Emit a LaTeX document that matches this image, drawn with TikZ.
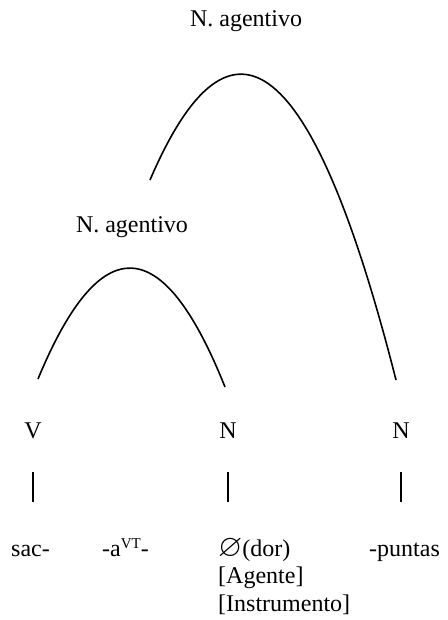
\documentclass[tikz,border=0pt]{standalone}
\usepackage{amssymb}
\usepackage{graphicx}
\usepackage{fontspec}
\setmainfont{Liberation Serif}
\begin{document}
\begin{tikzpicture}[x=1pt,y=-1pt,
  lbl/.style={inner sep=0pt,font=\fontsize{24}{28}\selectfont},
  arcline/.style={line width=1.6pt},
  bar/.style={line width=2pt}]
\useasboundingbox (0,0) rectangle (447,620);
% labels
\node[lbl,anchor=base] (top) at (246,27) {N. agentivo};
\node[lbl,anchor=base] (mid) at (132,232) {N. agentivo};
\node[lbl,anchor=base] (v) at (33,438) {V};
\node[lbl,anchor=base] (n1) at (228,438) {N};
\node[lbl,anchor=base] (n2) at (401,438) {N};
% bottom text
\node[lbl,anchor=base west] (sac) at (11,556) {sac-};
\node[lbl,anchor=base west] (a) at (102,556) {-a\raisebox{8pt}{\fontsize{15}{15}\selectfont VT}-};
\node[lbl,anchor=base west] (dor) at (218,556) {\raisebox{-0.5pt}{\scalebox{1.3}{$\varnothing$}}(dor)};
\node[lbl,anchor=base west] (pun) at (369,556) {-puntas};
\node[lbl,anchor=base west] (ag) at (218,583) {[Agente]};
\node[lbl,anchor=base west] (ins) at (218,611) {[Instrumento]};
% arcs
\coordinate (bigL) at (150,180);
\coordinate (bigR) at (396,380);
\coordinate (smL) at (38,379);
\coordinate (smR) at (225,387);
\draw[arcline] (bigL) .. controls (232,-11) and (314,57) .. (bigR);
\draw[arcline] (smL) .. controls (100.3,228.6) and (162.7,231.1) .. (smR);
% bars
\coordinate (b1t) at (33,472); \coordinate (b1b) at (33,502);
\coordinate (b2t) at (228,472); \coordinate (b2b) at (228,502);
\coordinate (b3t) at (401,472); \coordinate (b3b) at (401,502);
\draw[bar] (b1t) -- (b1b);
\draw[bar] (b2t) -- (b2b);
\draw[bar] (b3t) -- (b3b);
\end{tikzpicture}
\end{document}
